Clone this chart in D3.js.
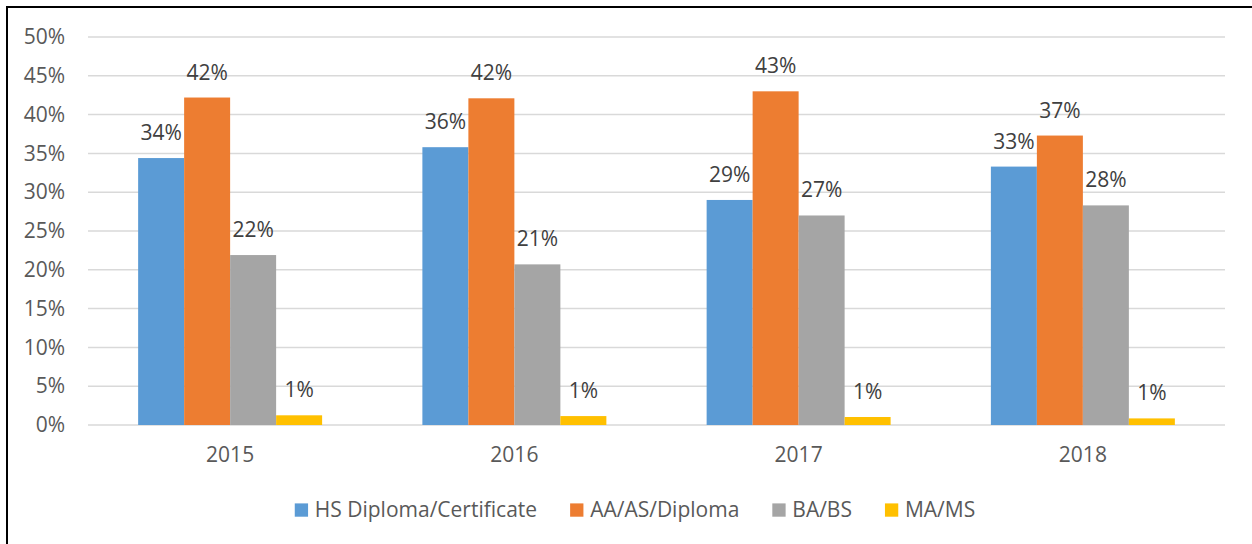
<!DOCTYPE html>
<html>
<head>
<meta charset="utf-8">
<script src="https://cdn.jsdelivr.net/npm/d3@7"></script>
<style>
  body { margin: 0; background: #fff; }
  text { font-family: "Open Sans", sans-serif; }
</style>
</head>
<body>
<div id="vis"><svg></svg></div>
<script>
// data
var years = ["2015", "2016", "2017", "2018"];
var seriesNames = ["HS Diploma/Certificate", "AA/AS/Diploma", "BA/BS", "MA/MS"];
var hsValues = [0.344, 0.358, 0.290, 0.333];
var aaValues = [0.422, 0.421, 0.430, 0.373];
var baValues = [0.219, 0.207, 0.270, 0.283];
var maValues = [0.0125, 0.0115, 0.0103, 0.0085];
var yTicks = [0, 0.05, 0.1, 0.15, 0.2, 0.25, 0.3, 0.35, 0.4, 0.45, 0.5];
var colors = ["#5b9bd5", "#ed7d31", "#a5a5a5", "#ffc000"];

var allValues = [hsValues, aaValues, baValues, maValues];

var width = 1252, height = 544;
var margin = {top: 37, right: 27, bottom: 119, left: 88};

var svg = d3.select("#vis").select("svg")
    .attr("width", width)
    .attr("height", height);

// chart border (only top and left visible in the crop)
svg.append("rect")
    .attr("x", 7).attr("y", 7)
    .attr("width", 1400).attr("height", 700)
    .attr("fill", "none")
    .attr("stroke", "#000")
    .attr("stroke-width", 2);

var x = d3.scaleBand()
    .domain(years)
    .range([margin.left, width - margin.right]);

var xInner = d3.scaleBand()
    .domain(seriesNames)
    .range([0, x.bandwidth()])
    .paddingInner(0)
    .paddingOuter(1.09);

var y = d3.scaleLinear()
    .domain([0, 0.5])
    .range([height - margin.bottom, margin.top]);

// gridlines
svg.append("g")
  .selectAll("line")
  .data(yTicks)
  .enter()
  .append("line")
    .attr("x1", margin.left)
    .attr("x2", width - margin.right)
    .attr("y1", function(d) { return y(d) })
    .attr("y2", function(d) { return y(d) })
    .attr("stroke", "#d9d9d9")
    .attr("stroke-width", 1.5);

// y axis labels
var yAxis = svg.append("g")
    .attr("transform", "translate(" + margin.left + ",0)")
    .call(d3.axisLeft(y).tickValues(yTicks).tickFormat(d3.format(".0%")).tickSize(0).tickPadding(23));
yAxis.select(".domain").remove();
yAxis.selectAll("text")
    .style("font-size", "21px")
    .style("font-family", "'Open Sans', sans-serif")
    .attr("fill", "#595959");

// x axis labels
var xAxis = svg.append("g")
    .attr("transform", "translate(0," + y(0) + ")")
    .call(d3.axisBottom(x).tickSize(0).tickPadding(22));
xAxis.select(".domain").remove();
xAxis.selectAll("text")
    .style("font-size", "21px")
    .style("font-family", "'Open Sans', sans-serif")
    .attr("fill", "#595959");

// flatten for bars
var barData = [];
years.forEach(function(yr, i) {
  seriesNames.forEach(function(s, j) {
    barData.push({year: yr, series: s, value: allValues[j][i], color: colors[j]});
  });
});

svg.append("g")
  .selectAll("rect")
  .data(barData)
  .enter()
  .append("rect")
    .attr("x", function(d) { return x(d.year) + xInner(d.series) })
    .attr("y", function(d) { return y(d.value) })
    .attr("width", xInner.bandwidth())
    .attr("height", function(d) { return y(0) - y(d.value) })
    .attr("fill", function(d) { return d.color });

// data labels
svg.append("g")
  .selectAll("text")
  .data(barData)
  .enter()
  .append("text")
    .attr("x", function(d) { return x(d.year) + xInner(d.series) + xInner.bandwidth() / 2 })
    .attr("y", function(d) { return y(d.value) - 18 })
    .attr("text-anchor", "middle")
    .style("font-size", "21px")
    .attr("fill", "#404040")
    .text(function(d) { return Math.round(d.value * 100) + "%" });

// legend
var legend = svg.append("g");
var items = legend.selectAll("g")
  .data(seriesNames)
  .enter()
  .append("g");
items.append("rect")
    .attr("width", 13.3)
    .attr("height", 13.3)
    .attr("y", -13.3)
    .attr("fill", function(d, i) { return colors[i] });
items.append("text")
    .attr("x", 20)
    .attr("y", 0)
    .style("font-size", "21px")
    .attr("fill", "#595959")
    .text(function(d) { return d });

var cursor = 0;
items.each(function() {
  var g = d3.select(this);
  g.attr("transform", "translate(" + cursor + ",0)");
  cursor += 20 + g.select("text").node().getComputedTextLength() + 33;
});
var legendWidth = cursor - 33;
legend.attr("transform", "translate(" + (635 - legendWidth / 2) + ",516.7)");
</script>
</body>
</html>
